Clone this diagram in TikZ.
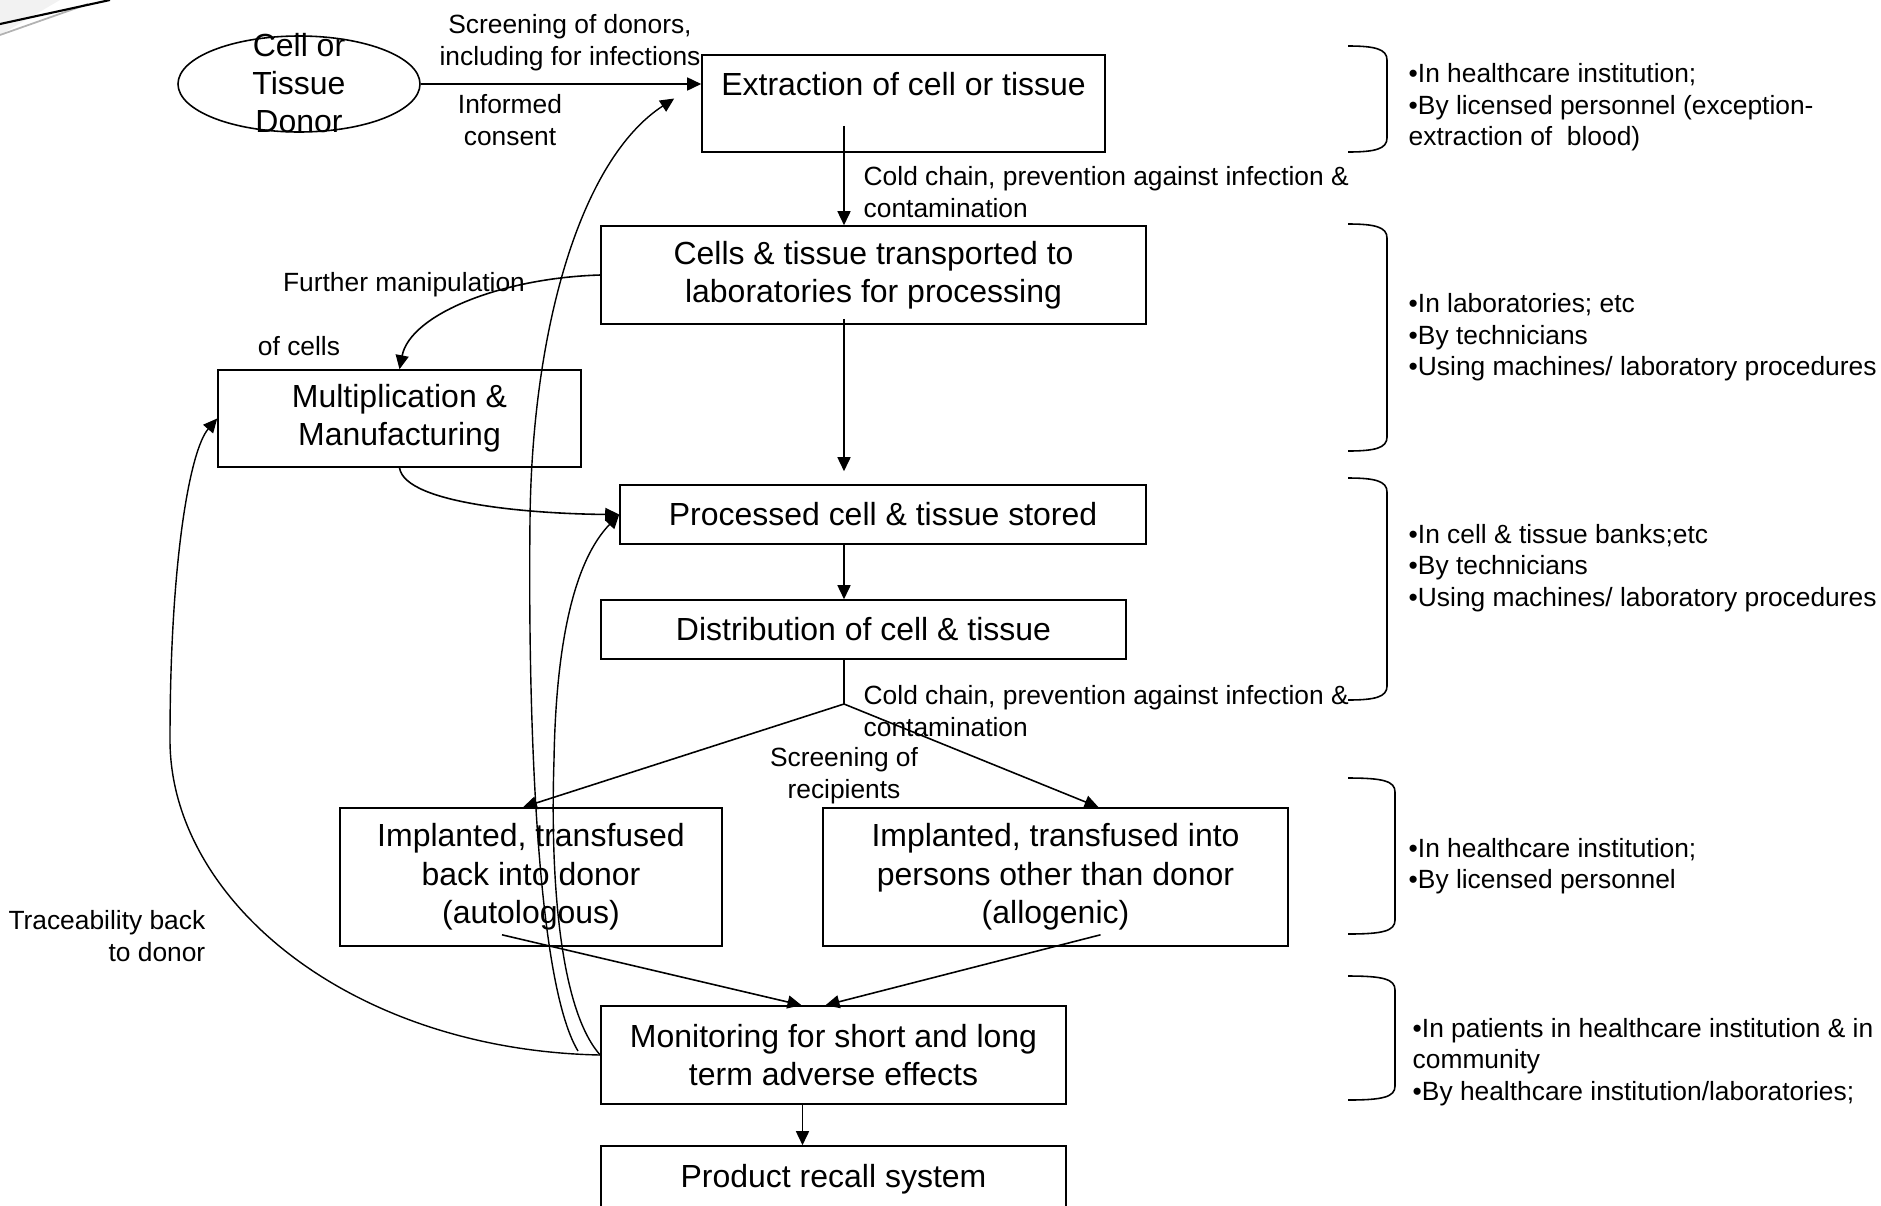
\documentclass[tikz,border=0pt]{standalone}
\usepackage{fontspec}
\setmainfont{Liberation Sans}
\usetikzlibrary{arrows.meta,calc,shapes.geometric}

\begin{document}
\begin{tikzpicture}[x=0.1mm,y=-0.1mm,>={Triangle[width=1.3mm,length=1.4mm]},
  box/.style={draw,line width=0.45pt,inner sep=0pt,font=\fontsize{9.1}{10.9}\selectfont},
  lowtext/.style={execute at begin node={\rule{0pt}{2.85mm}}},
  lab/.style={inner sep=0pt,font=\fontsize{7.5}{9.1}\selectfont},
  note/.style={inner sep=0pt,anchor=west,align=left,font=\fontsize{7.5}{9}\selectfont},
  link/.style={line width=0.45pt,->},
  backlink/.style={line width=0.4pt,->}]
\useasboundingbox (0,0) rectangle (1881,1205);
% slide corner
\fill[gray!10] (0,0) -- (60,0) -- (0,35) -- cycle;
\draw[gray!60,line width=0.5pt] (0,35) -- (88,4);
\draw[line width=0.6pt] (0,24) -- (110,0);
% process boxes
\node[ellipse,draw,line width=0.45pt,inner sep=0pt,minimum width=24.2mm,minimum height=9.6mm] (donor) at (299,84) {};
\node[box,draw=none,align=center] (donorname) at (299,83) {Cell or\\Tissue\\Donor};
\node[box,minimum width=40.3mm,minimum height=9.7mm,text height=2.5mm,text depth=4.2mm] (extract) at (903.5,103.5) {Extraction of cell or tissue};
\node[box,lowtext,align=center,minimum width=54.5mm,minimum height=9.8mm] (transport) at (873.5,275) {Cells \& tissue transported to\\laboratories for processing};
\node[box,lowtext,align=center,minimum width=36.3mm,minimum height=9.7mm] (multiply) at (399.5,418.5) {Multiplication \&\\Manufacturing};
\node[box,minimum width=52.6mm,minimum height=5.9mm] (stored) at (883,514.5) {Processed cell \& tissue stored};
\node[box,minimum width=52.5mm,minimum height=5.9mm] (distrib) at (863.5,629.5) {Distribution of cell \& tissue};
\node[box,lowtext,align=center,minimum width=38.2mm,minimum height=13.8mm] (auto) at (531,877) {Implanted, transfused\\back into donor\\(autologous)};
\node[box,lowtext,align=center,minimum width=46.5mm,minimum height=13.8mm] (allo) at (1055.5,877) {Implanted, transfused into\\persons other than donor\\(allogenic)};
\node[box,lowtext,align=center,minimum width=46.5mm,minimum height=9.8mm] (monitor) at (833.5,1055) {Monitoring for short and long\\term adverse effects};
\node[box,lowtext,minimum width=46.5mm,minimum height=6.2mm] (recall) at (833.5,1177) {Product recall system};
% main chain
\coordinate (axis) at (844,0);
\coordinate (split) at (844,704);
\draw[link] (donor.east) -- (donor.east -| extract.west);
\draw[link] ($(extract.south -| axis)+(0,-27)$) -- (transport.north -| axis);
\draw[link] ($(transport.south -| axis)+(0,-6)$) -- ($(stored.north -| axis)+(0,-13)$);
\draw[link] (stored.south -| axis) -- (distrib.north -| axis);
\draw[line width=0.45pt] (distrib.south -| axis) -- (split);
\draw[link] (split) -- ($(auto.north)+(-8,0)$);
\draw[link] (split) -- ($(allo.north)+(43,0)$);
\draw[link] ($(auto.south)+(-29,-12)$) -- ($(monitor.north)+(-32,0)$);
\draw[link] ($(allo.south)+(45,-12)$) -- ($(monitor.north)+(-8,0)$);
\draw[link] ($(monitor.south)+(-31,0)$) -- ($(recall.north)+(-31,0)$);
% side loops
\draw[link] (transport.west) .. controls (500,278) and (410,315) .. (multiply.north);
\draw[link] (multiply.south) .. controls (405,505) and (540,514) .. (stored.west);
\coordinate (loopend) at (578,1051);
\draw[backlink] (loopend) .. controls (535,980) and (528,700) .. (530,520) .. controls (532,330) and (580,160) .. ($(extract.west)+(-27,-5)$);
\draw[backlink] (monitor.west) .. controls (560,1010) and (550,880) .. (554,760) .. controls (556,640) and (575,560) .. (stored.west);
\draw[backlink] (monitor.west) .. controls (350,1050) and (170,900) .. (170,740) .. controls (170,560) and (190,450) .. (multiply.west);
% labels
\node[lab,align=center] (donorscreen) at (570,42.5) {Screening of donors,\\including for infections};
\node[lab,align=center] (consent) at (510,120) {Informed\\consent};
\node[lab,align=left,anchor=west] (coldchainA) at (863,192.5) {Cold chain, prevention against infection \&\\contamination};
\node[lab,align=left,anchor=west] (coldchainB) at (863,711.5) {Cold chain, prevention against infection \&\\contamination};
\node[lab,align=center] (recipients) at (844,776) {Screening of\\recipients};
\node[lab] (manip) at (404,285) {Further manipulation};
\node[lab] (ofcells) at (299,346) {of cells};
\node[lab,align=right,anchor=east] (trace) at (206,936) {Traceability back\\to donor};
% where and who
\foreach \ya/\yb/\xr in {46/152/1387, 224/451/1387, 478/700/1387, 778/934/1395, 976/1100/1395}
  \draw[line width=0.45pt] (1348,\ya) .. controls (\xr-12,\ya) and (\xr,\ya+3) .. (\xr,\ya+14) -- (\xr,\yb-14) .. controls (\xr,\yb-3) and (\xr-12,\yb) .. (1348,\yb);
\node[note] (whereA) at (1408,107.5) {•In healthcare institution;\\•By licensed personnel (exception-\\extraction of\ \ blood)};
\node[note] (whereB) at (1408,337.5) {•In laboratories; etc\\•By technicians\\•Using machines/ laboratory procedures};
\node[note] (whereC) at (1408,568) {•In cell \& tissue banks;etc\\•By technicians\\•Using machines/ laboratory procedures};
\node[note] (whereD) at (1408,866) {•In healthcare institution;\\•By licensed personnel};
\node[note] (whereE) at (1412,1062) {•In patients in healthcare institution \& in\\community\\•By healthcare institution/laboratories;};
\end{tikzpicture}
\end{document}
